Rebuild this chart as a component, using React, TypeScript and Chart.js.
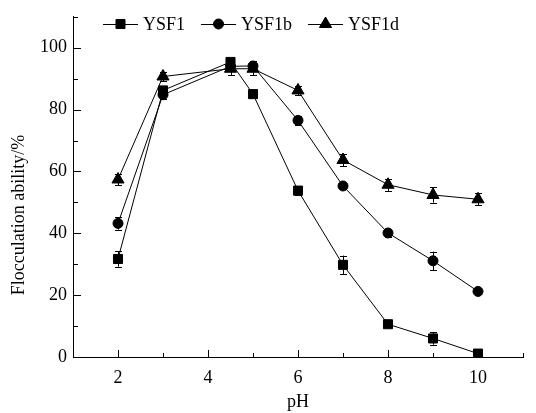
import React, { useEffect, useRef } from 'react';
import { Chart, registerables } from 'chart.js';

Chart.register(...registerables);

// ---- data ----
const pH = [2, 3, 4.5, 5, 6, 7, 8, 9, 10];
const seriesNames = ['YSF1', 'YSF1b', 'YSF1d'];
const ysf1 = [31.7, 86.2, 95.4, 85.0, 53.8, 29.8, 10.6, 6.0, 1.1];
const ysf1Err = [2.5, 1.5, 1, 1, 1.5, 3, 1, 2, 1];
const ysf1b = [43.2, 84.8, 94.0, 94.1, 76.5, 55.3, 40.1, 31.1, 21.2];
const ysf1bErr = [2, 1.5, 1.5, 1.5, 1.5, 1, 1.2, 3, 0.8];
const ysf1d = [57.4, 90.7, 93.2, 93.2, 86.2, 63.7, 55.7, 52.4, 51.0];
const ysf1dErr = [1.8, 1.5, 2, 2, 1.5, 2, 2, 2.5, 2];
const xTitle = 'pH';
const yTitle = 'Flocculation ability/%';
const xMin = 1, xMax = 11, yMin = 0, yMax = 110;

const FONT = '"Liberation Serif", "Times New Roman", serif';

function drawMarker(ctx: CanvasRenderingContext2D, style: string, x: number, y: number, r: number) {
  ctx.beginPath();
  if (style === 'rect') {
    const s = Math.SQRT1_2 * r;
    ctx.rect(x - s, y - s, 2 * s, 2 * s);
  } else if (style === 'circle') {
    ctx.arc(x, y, r, 0, Math.PI * 2);
  } else {
    let rad = 0;
    const t = (2 * Math.PI) / 3;
    ctx.moveTo(x + Math.sin(rad) * r, y - Math.cos(rad) * r);
    rad += t;
    ctx.lineTo(x + Math.sin(rad) * r, y - Math.cos(rad) * r);
    rad += t;
    ctx.lineTo(x + Math.sin(rad) * r, y - Math.cos(rad) * r);
    ctx.closePath();
  }
  ctx.fillStyle = '#000';
  ctx.fill();
  ctx.strokeStyle = '#000';
  ctx.lineWidth = 1;
  ctx.stroke();
}

const errorBarPlugin = {
  id: 'errorBars',
  beforeDatasetsDraw(chart: any) {
    const ctx = chart.ctx;
    const xs = chart.scales.x, ys = chart.scales.y;
    ctx.save();
    ctx.strokeStyle = '#000';
    ctx.lineWidth = 1;
    chart.data.datasets.forEach((ds: any) => {
      ds.data.forEach((v: number, j: number) => {
        const e = ds.errors[j];
        const px = Math.round(xs.getPixelForValue(pH[j])) + 0.5;
        const y1 = ys.getPixelForValue(v + e);
        const y2 = ys.getPixelForValue(v - e);
        ctx.beginPath();
        ctx.moveTo(px, y1);
        ctx.lineTo(px, y2);
        ctx.moveTo(px - 3.5, Math.round(y1) + 0.5);
        ctx.lineTo(px + 3.5, Math.round(y1) + 0.5);
        ctx.moveTo(px - 3.5, Math.round(y2) + 0.5);
        ctx.lineTo(px + 3.5, Math.round(y2) + 0.5);
        ctx.stroke();
      });
    });
    ctx.restore();
  },
};

const decorPlugin = {
  id: 'decor',
  afterDraw(chart: any) {
    const ctx = chart.ctx;
    const xs = chart.scales.x, ys = chart.scales.y;
    const area = chart.chartArea;
    ctx.save();
    ctx.strokeStyle = '#000';
    ctx.lineWidth = 1;
    // inward ticks
    ctx.beginPath();
    xs.ticks.forEach((t: any) => {
      const px = Math.round(xs.getPixelForValue(t.value)) + 0.5;
      const len = t.value % 2 === 0 ? 7 : 4;
      ctx.moveTo(px, area.bottom);
      ctx.lineTo(px, area.bottom - len);
    });
    ys.ticks.forEach((t: any) => {
      const py = Math.round(ys.getPixelForValue(t.value)) + 0.5;
      const len = t.value % 20 === 0 ? 8 : 5;
      ctx.moveTo(area.left, py);
      ctx.lineTo(area.left + len, py);
    });
    ctx.stroke();

    // y title
    ctx.fillStyle = '#000';
    ctx.font = '18px ' + FONT;
    ctx.save();
    ctx.translate(19, 215);
    ctx.rotate(-Math.PI / 2);
    ctx.textAlign = 'center';
    ctx.textBaseline = 'middle';
    ctx.fillText(yTitle, 0, 0);
    ctx.restore();

    // legend
    let x = 103;
    const y = 24;
    ctx.textAlign = 'left';
    ctx.textBaseline = 'middle';
    chart.data.datasets.forEach((ds: any) => {
      ctx.beginPath();
      ctx.moveTo(x, y + 0.5);
      ctx.lineTo(x + 35, y + 0.5);
      ctx.stroke();
      drawMarker(ctx, ds.pointStyle, x + 17.5, y, ds.pointRadius);
      ctx.fillStyle = '#000';
      ctx.fillText(ds.label, x + 40, y + 1);
      x += 40 + ctx.measureText(ds.label).width + 16;
    });
    ctx.restore();
  },
};

export default function App() {
  const ref = useRef<HTMLCanvasElement>(null);
  useEffect(() => {
    document.body.style.margin = '0';
    const canvas = ref.current!;
    const values = [ysf1, ysf1b, ysf1d];
    const errs = [ysf1Err, ysf1bErr, ysf1dErr];
    const styles = ['rect', 'circle', 'triangle'];
    const radii = [6.4, 5, 7];
    const chart = new Chart(canvas, {
      type: 'line',
      data: {
        labels: pH,
        datasets: seriesNames.map((name, i) => ({
          label: name,
          data: values[i],
          errors: errs[i],
          borderColor: '#000',
          backgroundColor: '#000',
          borderWidth: 1,
          pointStyle: styles[i],
          pointRadius: radii[i],
          pointBorderWidth: 1,
          pointBorderColor: '#000',
          pointBackgroundColor: '#000',
          tension: 0,
          fill: false,
        })) as any,
      },
      options: {
        responsive: false,
        animation: false,
        layout: { padding: { left: 0, right: 13, top: 15, bottom: 0 } },
        plugins: { legend: { display: false }, tooltip: { enabled: false } },
        scales: {
          x: {
            type: 'linear',
            min: xMin,
            max: xMax,
            grid: { display: false, drawTicks: false },
            border: { display: true, color: '#000', width: 1 },
            ticks: {
              stepSize: 1,
              autoSkip: false,
              maxRotation: 0,
              padding: 10,
              color: '#000',
              font: { family: FONT, size: 18 },
              callback: (v: any) => (v % 2 === 0 && v >= 2 && v <= 10 ? String(v) : ''),
            },
            title: {
              display: true,
              text: xTitle,
              color: '#000',
              font: { family: FONT, size: 18 },
              padding: { top: 0, bottom: 0 },
            },
            afterFit: (s: any) => { s.height = 56; },
          },
          y: {
            min: yMin,
            max: yMax,
            grid: { display: false, drawTicks: false },
            border: { display: true, color: '#000', width: 1 },
            ticks: {
              stepSize: 10,
              autoSkip: false,
              padding: 6,
              color: '#000',
              font: { family: FONT, size: 18 },
              callback: (v: any) => (v % 20 === 0 && v <= 100 ? String(v) : ''),
            },
            afterFit: (s: any) => { s.width = 73; },
          },
        },
      } as any,
      plugins: [errorBarPlugin, decorPlugin],
    });
    return () => chart.destroy();
  }, []);
  return (
    <div style={{ position: 'fixed', left: 0, top: 0, width: 536, height: 413, background: '#fff' }}>
      <canvas ref={ref} width={536} height={413} />
    </div>
  );
}
